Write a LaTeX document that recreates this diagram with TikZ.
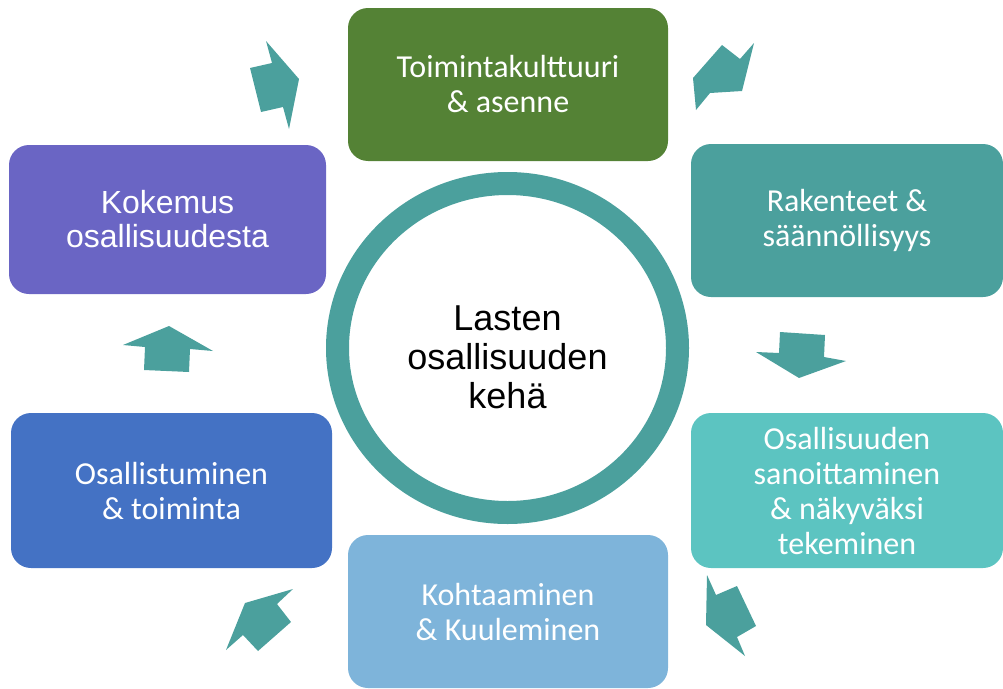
\documentclass[tikz,border=0pt]{standalone}
\usepackage{fontspec}
\setmainfont{Carlito}
\newfontfamily\arialfont{Liberation Sans}
\usetikzlibrary{shapes.geometric}

\definecolor{vihrea}{HTML}{548235}
\definecolor{tummaturkoosi}{HTML}{4BA09D}
\definecolor{vaaleaturkoosi}{HTML}{5CC4C1}
\definecolor{vaaleansininen}{HTML}{7EB4DA}
\definecolor{sininen}{HTML}{4472C4}
\definecolor{violetti}{HTML}{6A65C4}

\tikzset{
    laatikko/.style={rounded corners=20pt, inner sep=0pt, align=center, text=white,
        font=\fontsize{32}{35}\selectfont},
    nuoli/.style={fill=tummaturkoosi, draw=none},
}

\begin{document}
\begin{tikzpicture}[x=1pt, y=-1pt, semithick]
            \useasboundingbox (0, 0) rectangle (1003, 688);

            \node[ellipse, draw=tummaturkoosi, line width=23pt, inner sep=0pt,
                minimum width=340pt, minimum height=329pt] (kehae) at (507.5, 348) {};
            \node[align=center, font=\arialfont\fontsize{36}{39}\selectfont] (otsikko) at (507.5, 357) {Lasten\\osallisuuden\\kehä};

            \node[laatikko, fill=vihrea, minimum width=320pt, minimum height=153pt] (kulttuuri) at (508, 84.5) {Toimintakulttuuri\\\& asenne};
            \node[laatikko, fill=tummaturkoosi, minimum width=312pt, minimum height=153pt] (rakenteet) at (847, 220.5) {Rakenteet \&\\säännöllisyys};
            \node[laatikko, fill=vaaleaturkoosi, minimum width=312pt, minimum height=155pt] (sanoittaminen) at (847, 490.5) {Osallisuuden\\sanoittaminen\\\& näkyväksi\\tekeminen};
            \node[laatikko, fill=vaaleansininen, minimum width=320pt, minimum height=153pt] (kohtaaminen) at (508, 611.5) {Kohtaaminen\\\& Kuuleminen};
            \node[laatikko, fill=sininen, minimum width=321pt, minimum height=155pt] (osallistuminen) at (171.5, 490.5) {Osallistuminen\\\& toiminta};
            \node[laatikko, fill=violetti, minimum width=317pt, minimum height=149pt,
                font=\arialfont\fontsize{32}{34}\selectfont] (kokemus) at (167.5, 219.5) {Kokemus\\osallisuudesta};

            \fill[nuoli] (250, 68) -- (272, 63) -- (266, 41) -- (299, 79) -- (289, 129) -- (283, 107) -- (261, 112) -- cycle;
            \fill[nuoli] (693, 78) -- (722, 45) -- (740, 59) -- (754, 43) -- (742, 91) -- (710, 93) -- (696, 110) -- cycle;
            \fill[nuoli] (780, 332) -- (825, 335) -- (824, 357) -- (846, 361) -- (799, 378) -- (756, 352) -- (779, 353) -- cycle;
            \fill[nuoli] (737, 586) -- (756, 626) -- (737, 637) -- (745, 656) -- (706, 625) -- (707, 575) -- (716, 595) -- cycle;
            \fill[nuoli] (291, 622) -- (258, 651) -- (243, 635) -- (226, 650) -- (245, 603) -- (293, 589) -- (277, 604) -- cycle;
            \fill[nuoli] (144, 370) -- (189, 372) -- (190, 349) -- (213, 351) -- (169, 326) -- (123, 345) -- (145, 347) -- cycle;
        \end{tikzpicture}
\end{document}
